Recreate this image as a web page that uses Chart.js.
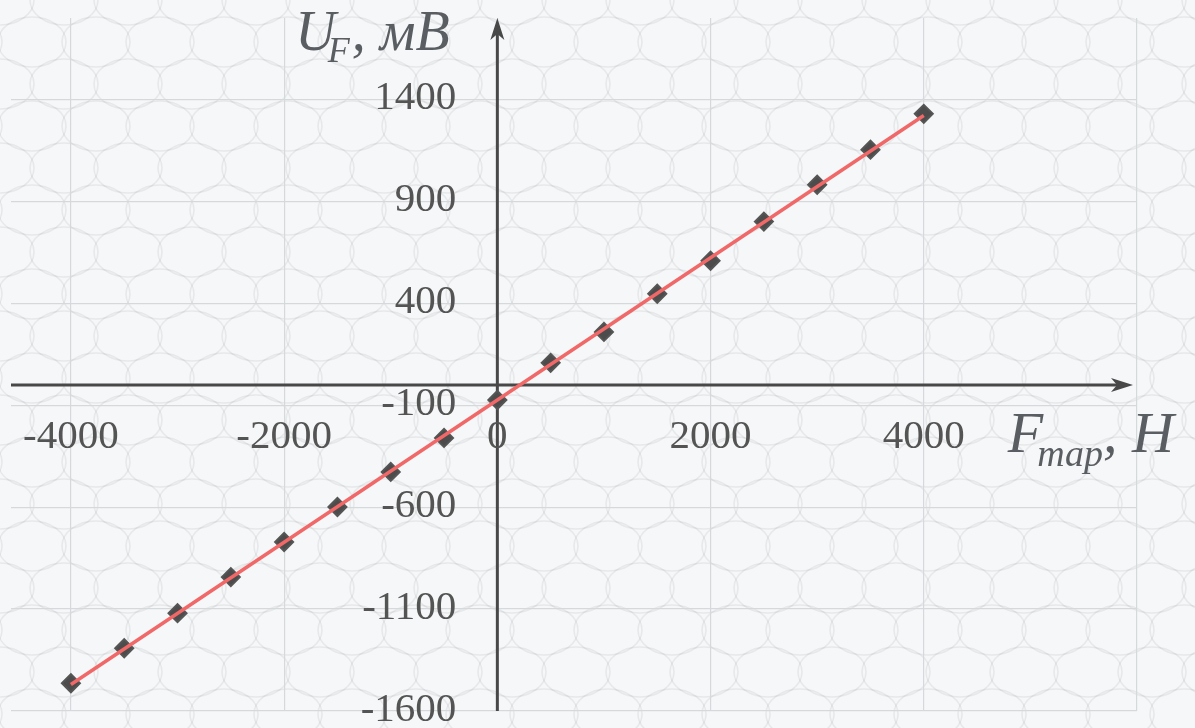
<!DOCTYPE html>
<html><head><meta charset="utf-8">
<script src="https://cdn.jsdelivr.net/npm/chart.js@4.4.1/dist/chart.umd.min.js"></script>
<style>html,body{margin:0;padding:0;background:#f6f7f8}#wrap{width:1195px;height:728px;position:relative}</style>
</head><body><div id="wrap"><canvas id="c"></canvas></div>
<script>
// ---- data ----
const forceN = [-4000,-3500,-3000,-2500,-2000,-1500,-1000,-500,0,500,1000,1500,2000,2500,3000,3500,4000];
const voltageMV = [-1464,-1292,-1120,-943,-771,-599,-427,-260,-74,108,260,447,609,801,982,1154,1330];
const fitForceN = [-4000, 4000];
const fitVoltageMV = [-1470, 1322];
const xTickValues = [-4000,-2000,0,2000,4000,6000];
const xTickLabels = ['-4000','-2000','0','2000','4000',''];
const yTickValues = [-1600,-1100,-600,-100,400,900,1400];
const yTickLabels = ['-1600','-1100','-600','-100','400','900','1400'];

const SERIF = '"Liberation Serif", "Times New Roman", serif';
const TEXT = '#545454';
const AXIS = '#484848';

function drawRuns(ctx, x, runs) {
  for (const r of runs) {
    ctx.font = r.font;
    ctx.fillText(r.text, x + (r.dx || 0), r.y);
    x += ctx.measureText(r.text).width + (r.dx || 0);
  }
}

const decor = {
  id: 'decor',
  beforeDraw(chart) {
    const ctx = chart.ctx, W = chart.width, H = chart.height;
    ctx.save();
    ctx.fillStyle = '#f6f7f8';
    ctx.fillRect(0, 0, W, H);
    ctx.strokeStyle = 'rgba(110,120,125,0.11)';
    ctx.lineWidth = 1.6;
    for (let j = -1; j < 20; j++) {
      for (let i = -1; i < 22; i++) {
        const cx = i * 64 + (j % 2 ? 32 : 0), cy = j * 42;
        ctx.beginPath();
        ctx.ellipse(cx, cy, 34, 25, 0, 0, Math.PI * 2);
        ctx.stroke();
      }
    }
    ctx.restore();
  },
  beforeDatasetsDraw(chart) {
    const ctx = chart.ctx, a = chart.chartArea;
    const xs = chart.scales.x, ys = chart.scales.y;
    const x0 = xs.getPixelForValue(0), y0 = ys.getPixelForValue(0);
    ctx.save();
    ctx.strokeStyle = AXIS; ctx.fillStyle = AXIS; ctx.lineWidth = 3;
    const tipX = a.right - 4;
    ctx.beginPath(); ctx.moveTo(a.left, y0); ctx.lineTo(tipX - 14, y0); ctx.stroke();
    ctx.beginPath(); ctx.moveTo(tipX, y0); ctx.lineTo(tipX - 22, y0 - 7); ctx.lineTo(tipX - 16, y0); ctx.lineTo(tipX - 22, y0 + 7); ctx.closePath(); ctx.fill();
    const tipY = a.top;
    ctx.beginPath(); ctx.moveTo(x0, a.bottom); ctx.lineTo(x0, tipY + 14); ctx.stroke();
    ctx.beginPath(); ctx.moveTo(x0, tipY); ctx.lineTo(x0 - 7, tipY + 22); ctx.lineTo(x0, tipY + 16); ctx.lineTo(x0 + 7, tipY + 22); ctx.closePath(); ctx.fill();
    ctx.restore();
  },
  afterDraw(chart) {
    const ctx = chart.ctx;
    const xs = chart.scales.x, ys = chart.scales.y;
    const x0 = xs.getPixelForValue(0), y0 = ys.getPixelForValue(0);
    ctx.save();
    ctx.fillStyle = TEXT;
    ctx.font = '41px ' + SERIF;
    ctx.textBaseline = 'middle';
    ctx.textAlign = 'center';
    xTickValues.forEach((v, i) => {
      if (xTickLabels[i]) ctx.fillText(xTickLabels[i], xs.getPixelForValue(v), y0 + 52);
    });
    ctx.textAlign = 'right';
    yTickValues.forEach((v, i) => {
      ctx.fillText(yTickLabels[i], x0 - 41, ys.getPixelForValue(v) - 1);
    });
    ctx.textAlign = 'left';
    ctx.textBaseline = 'alphabetic';
    ctx.fillStyle = '#5a5e62';
    drawRuns(ctx, x0 - 202, [
      {text: 'U', font: 'italic 56px ' + SERIF, y: 50},
      {text: 'F', font: 'italic 36px ' + SERIF, y: 62, dx: -8},
      {text: ', мВ', font: 'italic 56px ' + SERIF, y: 50, dx: 2}
    ]);
    drawRuns(ctx, xs.getPixelForValue(4000) + 84, [
      {text: 'F', font: 'italic 58px ' + SERIF, y: 452},
      {text: 'тар', font: 'italic 38px ' + SERIF, y: 466, dx: -6},
      {text: ', Н', font: 'italic 58px ' + SERIF, y: 452, dx: 0}
    ]);
    ctx.restore();
  }
};

new Chart(document.getElementById('c'), {
  type: 'scatter',
  data: {
    datasets: [
      {
        type: 'line',
        label: 'fit',
        data: fitForceN.map((x, i) => ({x, y: fitVoltageMV[i]})),
        borderColor: '#f06868',
        borderWidth: 3.5,
        pointRadius: 0,
        fill: false,
        order: 0
      },
      {
        label: 'U_F',
        data: forceN.map((x, i) => ({x, y: voltageMV[i]})),
        pointStyle: 'rectRot',
        pointRadius: 9,
        backgroundColor: '#4c4c4c',
        borderColor: '#555555',
        borderWidth: 2,
        order: 1
      }
    ]
  },
  options: {
    responsive: true,
    maintainAspectRatio: false,
    animation: false,
    layout: {padding: {left: 10, right: 58, top: 18, bottom: 17}},
    plugins: {legend: {display: false}, tooltip: {enabled: false}},
    scales: {
      x: {
        type: 'linear', min: -4562, max: 6000,
        afterBuildTicks(s) { s.ticks = xTickValues.map(v => ({value: v})); },
        ticks: {display: false},
        grid: {color: '#d6d9db', lineWidth: 1.2, drawTicks: false},
        border: {display: false}
      },
      y: {
        type: 'linear', min: -1600, max: 1800,
        afterBuildTicks(s) { s.ticks = yTickValues.map(v => ({value: v})); },
        ticks: {display: false},
        grid: {color: '#d6d9db', lineWidth: 1.2, drawTicks: false},
        border: {display: false}
      }
    }
  },
  plugins: [decor]
});
</script></body></html>
